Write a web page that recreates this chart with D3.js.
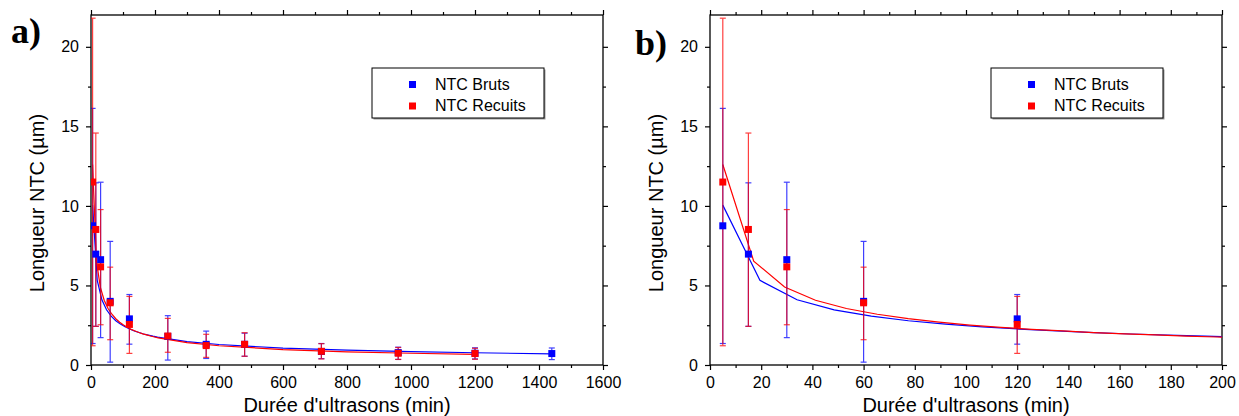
<!DOCTYPE html>
<html>
<head>
<meta charset="utf-8">
<script src="https://cdn.jsdelivr.net/npm/d3@7"></script>
<style>
  body { margin: 0; background: #fff; }
  svg { display: block; font-family: "Liberation Sans", Arial, sans-serif; }
</style>
</head>
<body>
<svg id="chart" width="1239" height="416"></svg>
<script>
// Durations (min) and measured lengths (µm)
const xBruts = [5, 15, 30, 60, 120, 240, 360, 480, 720, 960, 1200, 1440];
const yBruts = [8.75, 6.97, 6.62, 4.0, 2.9, 1.8, 1.3, 1.3, 0.85, 0.78, 0.74, 0.72];
const lowBruts = [1.35, 2.43, 1.72, 0.18, 1.31, 0.31, 0.41, 0.55, 0.40, 0.35, 0.38, 0.34];
const highBruts = [16.13, 11.45, 11.49, 7.77, 4.43, 3.10, 2.13, 2.0, 1.35, 1.12, 1.08, 1.07];

const xRecuits = [5, 15, 30, 60, 120, 240, 360, 480, 720, 960, 1200];
const yRecuits = [11.5, 8.52, 6.17, 3.91, 2.55, 1.82, 1.22, 1.3, 0.86, 0.74, 0.72];
const lowRecuits = [1.21, 2.43, 2.53, 1.59, 0.73, 0.80, 0.48, 0.55, 0.38, 0.35, 0.36];
const highRecuits = [21.8, 14.58, 9.77, 6.15, 4.31, 2.93, 1.93, 2.03, 1.34, 1.10, 1.05];

// fitted curves
const fitBrutsX = [5, 19.5, 34, 48.5, 63, 77.5, 92, 106.4, 120.9, 135.4, 149.9, 164.4, 178.9, 193.4, 207.9, 300, 400, 600, 800, 1000, 1200, 1440];
const fitBrutsY = [10.05, 5.32, 4.10, 3.47, 3.07, 2.78, 2.57, 2.40, 2.26, 2.14, 2.04, 1.95, 1.88, 1.81, 1.75, 1.47, 1.29, 1.06, 0.93, 0.84, 0.77, 0.70];
const fitRecuitsX = [5, 17.07, 29.14, 41.21, 53.28, 65.35, 77.42, 89.49, 101.56, 113.63, 125.7, 137.77, 149.84, 161.91, 173.98, 186.05, 198.12, 210.19, 300, 400, 600, 800, 1000, 1200];
const fitRecuitsY = [12.6, 6.53, 4.90, 4.07, 3.55, 3.19, 2.91, 2.69, 2.51, 2.37, 2.24, 2.14, 2.04, 1.96, 1.89, 1.82, 1.76, 1.70, 1.41, 1.21, 0.97, 0.83, 0.74, 0.67];

const yTicks = [0, 5, 10, 15, 20];
const yMinorTicks = [2.5, 7.5, 12.5, 17.5];
const seriesNames = ["NTC Bruts", "NTC Recuits"];
const seriesColors = ["#0000ff", "#ff0000"];

const svg = d3.select("#chart");

function drawPanel(p) {
  const x = d3.scaleLinear().domain(p.xDomain).range([p.left, p.right]);
  const y = d3.scaleLinear().domain([0, 22]).range([365, 15]);

  const g = svg.append("g");

  g.append("clipPath").attr("id", "clip" + p.id)
    .append("rect")
    .attr("x", p.left).attr("y", 15)
    .attr("width", p.right - p.left).attr("height", 350);

  // axes: major + minor ticks on all four sides, ticks outward
  const axes = [
    { ax: d3.axisBottom(x).tickValues(p.xTicks), t: `translate(0,365)`, labels: true },
    { ax: d3.axisBottom(x).tickValues(p.xMinor), t: `translate(0,365)`, minor: true },
    { ax: d3.axisTop(x).tickValues(p.xTicks), t: `translate(0,15)` },
    { ax: d3.axisTop(x).tickValues(p.xMinor), t: `translate(0,15)`, minor: true },
    { ax: d3.axisLeft(y).tickValues(yTicks), t: `translate(${p.left},0)`, labels: true },
    { ax: d3.axisLeft(y).tickValues(yMinorTicks), t: `translate(${p.left},0)`, minor: true },
    { ax: d3.axisRight(y).tickValues(yTicks), t: `translate(${p.right},0)` },
    { ax: d3.axisRight(y).tickValues(yMinorTicks), t: `translate(${p.right},0)`, minor: true }
  ];
  axes.forEach(a => {
    a.ax.tickSizeInner(a.minor ? 3 : 5).tickSizeOuter(0).tickPadding(a.labels ? 7 : 0);
    a.ax.tickFormat(a.labels ? d3.format("d") : "");
    const ag = g.append("g").attr("transform", a.t).call(a.ax);
    ag.select(".domain").remove();
    ag.selectAll("line").attr("stroke", "#000").attr("stroke-width", 1.2);
    ag.selectAll("text").attr("font-size", 16).attr("fill", "#000")
      .attr("font-family", "Liberation Sans, Arial, sans-serif");
  });

  g.append("rect")
    .attr("x", p.left).attr("y", 15)
    .attr("width", p.right - p.left).attr("height", 350)
    .attr("fill", "none").attr("stroke", "#000").attr("stroke-width", 1.3);

  const series = [
    { xs: xBruts, ys: yBruts, lo: lowBruts, hi: highBruts, fx: fitBrutsX, fy: fitBrutsY },
    { xs: xRecuits, ys: yRecuits, lo: lowRecuits, hi: highRecuits, fx: fitRecuitsX, fy: fitRecuitsY }
  ];

  const plot = g.append("g").attr("clip-path", `url(#clip${p.id})`);
  const line = d3.line().x(d => x(d[0])).y(d => y(d[1]));

  series.forEach((s, i) => {
    plot.append("path")
      .datum(d3.zip(s.fx, s.fy))
      .attr("d", line)
      .attr("fill", "none")
      .attr("stroke", seriesColors[i])
      .attr("stroke-width", 1.2);
  });

  series.forEach((s, i) => {
    const pts = s.xs.map((v, k) => ({ x: v, y: s.ys[k], lo: s.lo[k], hi: s.hi[k] }));
    const eb = plot.append("g")
      .attr("stroke", seriesColors[i])
      .attr("stroke-width", 1.2)
      .attr("opacity", 0.75);
    eb.selectAll(".stem").data(pts).enter().append("line")
      .attr("x1", d => x(d.x)).attr("x2", d => x(d.x))
      .attr("y1", d => y(d.lo)).attr("y2", d => y(d.hi));
    eb.selectAll(".capHi").data(pts).enter().append("line")
      .attr("x1", d => x(d.x) - 3).attr("x2", d => x(d.x) + 3)
      .attr("y1", d => y(d.hi)).attr("y2", d => y(d.hi));
    eb.selectAll(".capLo").data(pts).enter().append("line")
      .attr("x1", d => x(d.x) - 3).attr("x2", d => x(d.x) + 3)
      .attr("y1", d => y(d.lo)).attr("y2", d => y(d.lo));
  });

  series.forEach((s, i) => {
    plot.append("g").selectAll("rect")
      .data(s.xs.map((v, k) => [v, s.ys[k]]))
      .enter().append("rect")
      .attr("x", d => x(d[0]) - 3.5)
      .attr("y", d => y(d[1]) - 3.5)
      .attr("width", 7).attr("height", 7)
      .attr("fill", seriesColors[i]);
  });

  // legend
  const lg = g.append("g").attr("transform", `translate(${p.legendX},68)`);
  lg.append("rect")
    .attr("x", 1.5).attr("y", 1.5).attr("width", 172).attr("height", 50)
    .attr("fill", "#999");
  lg.append("rect")
    .attr("width", 172).attr("height", 50)
    .attr("fill", "#fff").attr("stroke", "#000").attr("stroke-width", 1);
  seriesNames.forEach((name, i) => {
    lg.append("rect")
      .attr("x", 37).attr("y", 13 + i * 21.5)
      .attr("width", 7).attr("height", 7)
      .attr("fill", seriesColors[i]);
    lg.append("text")
      .attr("x", 63).attr("y", 22 + i * 21)
      .attr("font-size", 16)
      .text(name);
  });

  // axis titles
  g.append("text")
    .attr("x", (p.left + p.right) / 2).attr("y", 412)
    .attr("text-anchor", "middle").attr("font-size", 20)
    .text("Durée d'ultrasons (min)");
  g.append("text")
    .attr("transform", `translate(${p.titleX},203) rotate(-90)`)
    .attr("text-anchor", "middle").attr("font-size", 20)
    .text("Longueur NTC (µm)");

  g.append("text")
    .attr("x", p.tagX).attr("y", p.tagY)
    .attr("font-family", "Liberation Serif, serif").attr("font-weight", "bold")
    .attr("font-size", 36)
    .text(p.tag);
}

drawPanel({
  id: "a", left: 91, right: 603, xDomain: [0, 1600],
  xTicks: d3.range(0, 1601, 200), xMinor: d3.range(100, 1600, 200),
  legendX: 372, titleX: 44, tag: "a)", tagX: 11, tagY: 43
});
drawPanel({
  id: "b", left: 710, right: 1222, xDomain: [0, 200],
  xTicks: d3.range(0, 201, 20), xMinor: d3.range(10, 200, 20),
  legendX: 991, titleX: 663, tag: "b)", tagX: 635, tagY: 55
});
</script>
</body>
</html>
